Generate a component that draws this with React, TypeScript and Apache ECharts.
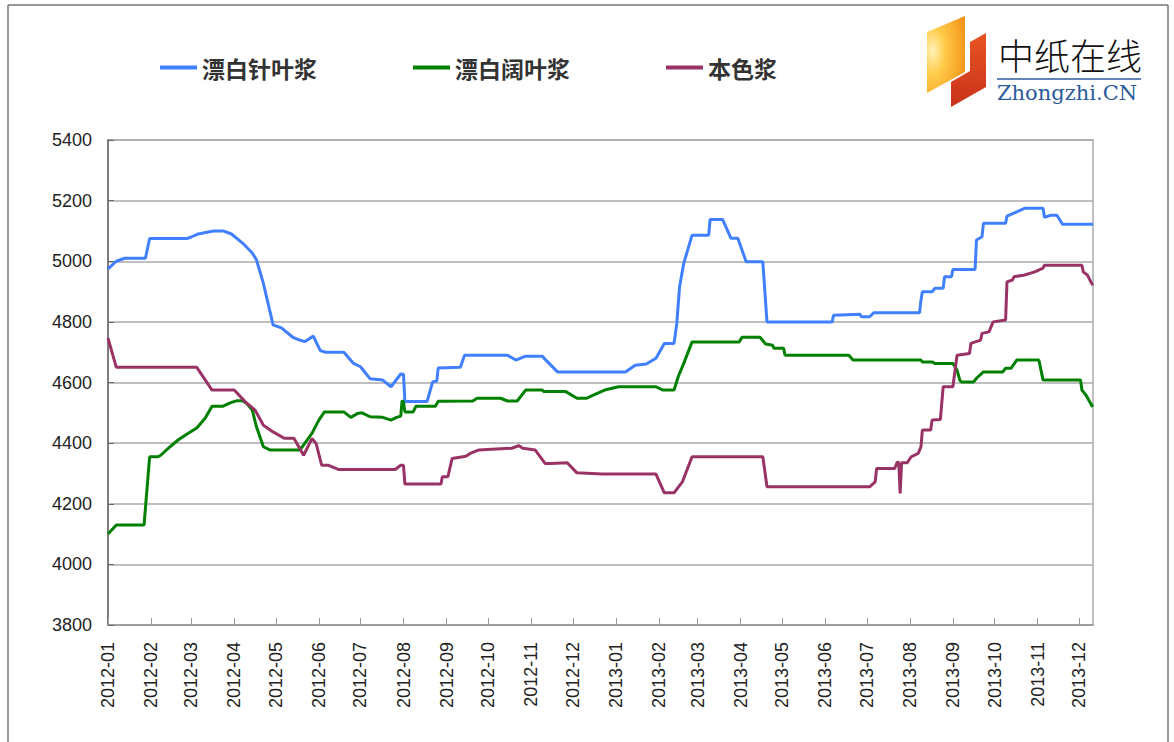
import React, { useEffect, useRef } from 'react';
import * as echarts from 'echarts';

// ---- data ----
const seriesNames = ['漂白针叶浆', '漂白阔叶浆', '本色浆'];
const seriesColors = ['#4080FF', '#008000', '#993366'];

const xMin = '2012-01-01';
const xMax = '2013-12-11';
const yMin = 3800;
const yMax = 5400;
const yStep = 200;

// 漂白针叶浆 (bleached softwood)
const softwood: [string, number][] = [
  ['2012-01-01', 4975], ['2012-01-07', 5000], ['2012-01-13', 5010], ['2012-01-28', 5010],
  ['2012-01-31', 5075], ['2012-02-27', 5075], ['2012-03-01', 5080], ['2012-03-06', 5090],
  ['2012-03-17', 5100], ['2012-03-24', 5100], ['2012-03-30', 5090], ['2012-04-07', 5060],
  ['2012-04-14', 5027], ['2012-04-17', 5005], ['2012-04-22', 4927], ['2012-04-29', 4790],
  ['2012-05-05', 4780], ['2012-05-13', 4750], ['2012-05-18', 4740], ['2012-05-22', 4735],
  ['2012-05-28', 4753], ['2012-06-02', 4705], ['2012-06-06', 4700], ['2012-06-19', 4700],
  ['2012-06-26', 4663], ['2012-07-01', 4652], ['2012-07-08', 4612], ['2012-07-17', 4608],
  ['2012-07-23', 4586], ['2012-07-30', 4628], ['2012-08-01', 4627], ['2012-08-02', 4537],
  ['2012-08-18', 4537], ['2012-08-22', 4602], ['2012-08-25', 4605], ['2012-08-26', 4648],
  ['2012-09-11', 4650], ['2012-09-14', 4690], ['2012-10-15', 4690], ['2012-10-21', 4674],
  ['2012-10-28', 4687], ['2012-11-09', 4687], ['2012-11-12', 4672], ['2012-11-20', 4635],
  ['2013-01-08', 4635], ['2013-01-15', 4657], ['2013-01-23', 4661], ['2013-01-30', 4680],
  ['2013-02-05', 4729], ['2013-02-12', 4729], ['2013-02-14', 4795], ['2013-02-16', 4916],
  ['2013-02-19', 4993], ['2013-02-25', 5086], ['2013-03-09', 5086], ['2013-03-10', 5138],
  ['2013-03-19', 5138], ['2013-03-25', 5076], ['2013-03-30', 5076], ['2013-04-05', 4998],
  ['2013-04-17', 4998], ['2013-04-20', 4800], ['2013-06-06', 4800], ['2013-06-07', 4822],
  ['2013-06-26', 4825], ['2013-06-27', 4817], ['2013-07-03', 4817], ['2013-07-06', 4830],
  ['2013-08-08', 4830], ['2013-08-09', 4872], ['2013-08-10', 4899], ['2013-08-17', 4899],
  ['2013-08-19', 4911], ['2013-08-25', 4911], ['2013-08-26', 4949], ['2013-08-31', 4949],
  ['2013-09-01', 4973], ['2013-09-17', 4973], ['2013-09-18', 5070], ['2013-09-22', 5081],
  ['2013-09-23', 5125], ['2013-10-09', 5125], ['2013-10-10', 5149], ['2013-10-17', 5163],
  ['2013-10-23', 5175], ['2013-11-05', 5175], ['2013-11-06', 5145], ['2013-11-11', 5152],
  ['2013-11-15', 5152], ['2013-11-19', 5122], ['2013-12-11', 5122],
];

// 漂白阔叶浆 (bleached hardwood)
const hardwood: [string, number][] = [
  ['2012-01-01', 4100], ['2012-01-07', 4130], ['2012-01-27', 4130], ['2012-01-31', 4355],
  ['2012-02-06', 4355], ['2012-02-08', 4360], ['2012-02-14', 4385], ['2012-02-21', 4412],
  ['2012-02-27', 4430], ['2012-03-05', 4450], ['2012-03-11', 4482], ['2012-03-16', 4522],
  ['2012-03-24', 4522], ['2012-03-29', 4533], ['2012-04-03', 4540], ['2012-04-07', 4540],
  ['2012-04-10', 4531], ['2012-04-14', 4509], ['2012-04-17', 4454], ['2012-04-22', 4388],
  ['2012-04-27', 4377], ['2012-05-18', 4377], ['2012-05-20', 4388], ['2012-05-27', 4432],
  ['2012-06-01', 4476], ['2012-06-05', 4503], ['2012-06-19', 4503], ['2012-06-24', 4485],
  ['2012-06-29', 4498], ['2012-07-02', 4500], ['2012-07-08', 4487], ['2012-07-17', 4485],
  ['2012-07-23', 4476], ['2012-07-27', 4485], ['2012-07-30', 4489], ['2012-07-31', 4540],
  ['2012-08-01', 4536], ['2012-08-02', 4503], ['2012-08-08', 4503], ['2012-08-10', 4522],
  ['2012-08-24', 4522], ['2012-08-26', 4538], ['2012-09-20', 4539], ['2012-09-23', 4548],
  ['2012-10-10', 4548], ['2012-10-15', 4539], ['2012-10-22', 4539], ['2012-10-28', 4575],
  ['2012-11-09', 4575], ['2012-11-10', 4570], ['2012-11-26', 4570], ['2012-12-04', 4548],
  ['2012-12-11', 4548], ['2012-12-17', 4561], ['2012-12-24', 4575], ['2013-01-03', 4586],
  ['2013-01-30', 4586], ['2013-02-04', 4575], ['2013-02-12', 4575], ['2013-02-15', 4619],
  ['2013-02-19', 4663], ['2013-02-25', 4734], ['2013-03-31', 4734], ['2013-04-02', 4749],
  ['2013-04-15', 4749], ['2013-04-19', 4727], ['2013-04-24', 4723], ['2013-04-25', 4713],
  ['2013-05-02', 4713], ['2013-05-03', 4690], ['2013-06-18', 4690], ['2013-06-21', 4674],
  ['2013-08-09', 4674], ['2013-08-10', 4668], ['2013-08-17', 4668], ['2013-08-19', 4663],
  ['2013-09-01', 4663], ['2013-09-04', 4641], ['2013-09-06', 4608], ['2013-09-07', 4602],
  ['2013-09-16', 4602], ['2013-09-18', 4614], ['2013-09-23', 4635], ['2013-10-07', 4635],
  ['2013-10-09', 4647], ['2013-10-13', 4647], ['2013-10-17', 4674], ['2013-11-02', 4674],
  ['2013-11-05', 4608], ['2013-12-02', 4608], ['2013-12-03', 4575], ['2013-12-06', 4558],
  ['2013-12-10', 4525], ['2013-12-11', 4520],
];

// 本色浆 (unbleached)
const unbleached: [string, number][] = [
  ['2012-01-01', 4746], ['2012-01-07', 4650], ['2012-03-05', 4650], ['2012-03-16', 4575],
  ['2012-04-01', 4575], ['2012-04-09', 4536], ['2012-04-16', 4509], ['2012-04-22', 4459],
  ['2012-04-29', 4437], ['2012-05-07', 4416], ['2012-05-14', 4416], ['2012-05-21', 4360],
  ['2012-05-27', 4415], ['2012-05-30', 4399], ['2012-06-03', 4327], ['2012-06-08', 4327],
  ['2012-06-15', 4313], ['2012-07-26', 4313], ['2012-07-30', 4327], ['2012-08-01', 4327],
  ['2012-08-02', 4265], ['2012-08-28', 4265], ['2012-08-29', 4289], ['2012-09-02', 4289],
  ['2012-09-05', 4349], ['2012-09-15', 4357], ['2012-09-18', 4366], ['2012-09-24', 4377],
  ['2012-10-18', 4383], ['2012-10-21', 4388], ['2012-10-23', 4392], ['2012-10-26', 4383],
  ['2012-11-04', 4377], ['2012-11-11', 4333], ['2012-11-15', 4333], ['2012-11-27', 4335],
  ['2012-12-04', 4302], ['2012-12-22', 4298], ['2013-01-30', 4298], ['2013-02-05', 4236],
  ['2013-02-12', 4236], ['2013-02-18', 4272], ['2013-02-25', 4355], ['2013-04-17', 4355],
  ['2013-04-20', 4256], ['2013-07-03', 4256], ['2013-07-07', 4272], ['2013-07-08', 4316],
  ['2013-07-21', 4316], ['2013-07-23', 4338], ['2013-07-24', 4335], ['2013-07-25', 4234],
  ['2013-07-26', 4335], ['2013-07-30', 4335], ['2013-08-02', 4355], ['2013-08-07', 4366],
  ['2013-08-09', 4388], ['2013-08-10', 4443], ['2013-08-16', 4443], ['2013-08-17', 4476],
  ['2013-08-23', 4478], ['2013-08-25', 4586], ['2013-09-01', 4586], ['2013-09-04', 4690],
  ['2013-09-13', 4696], ['2013-09-14', 4729], ['2013-09-21', 4740], ['2013-09-22', 4762],
  ['2013-09-27', 4767], ['2013-09-30', 4800], ['2013-10-09', 4806], ['2013-10-10', 4932],
  ['2013-10-14', 4938], ['2013-10-15', 4949], ['2013-10-22', 4954], ['2013-10-30', 4965],
  ['2013-11-05', 4977], ['2013-11-06', 4987], ['2013-12-03', 4987], ['2013-12-04', 4965],
  ['2013-12-07', 4954], ['2013-12-10', 4927], ['2013-12-11', 4921],
];

const seriesData = [softwood, hardwood, unbleached];

const DAY = 24 * 3600 * 1000;

function monthLabel(v: number): string {
  const d = new Date(v);
  const m = d.getMonth() + 1;
  return d.getFullYear() + '-' + (m < 10 ? '0' + m : '' + m);
}

export default function App() {
  const ref = useRef<HTMLDivElement>(null);

  useEffect(() => {
    if (!ref.current) return;
    const chart = echarts.init(ref.current, null, { renderer: 'svg' });

    const axisFont = 'Liberation Sans, Arial, sans-serif';

    chart.setOption({
      animation: false,
      backgroundColor: '#ffffff',
      legend: {
        left: 155,
        top: 51,
        itemGap: 96,
        itemWidth: 37,
        itemHeight: 4,
        icon: 'rect',
        data: seriesNames,
        textStyle: {
          fontSize: 23,
          fontWeight: 'bold',
          color: '#333',
          fontFamily: 'Noto Sans CJK SC',
        },
      },
      grid: {
        left: 108,
        right: 81,
        top: 140,
        bottom: 117,
        show: true,
        borderColor: '#aaaaaa',
        borderWidth: 1.5,
        backgroundColor: 'transparent',
      },
      xAxis: {
        type: 'time',
        min: xMin,
        max: xMax,
        splitNumber: 24,
        minInterval: 28 * DAY,
        maxInterval: 31 * DAY,
        axisLine: { show: true, lineStyle: { color: '#999999', width: 1.5 } },
        axisTick: { show: true, inside: true, length: 7, lineStyle: { color: '#999999', width: 1 } },
        axisLabel: {
          rotate: 90,
          formatter: (v: number) => monthLabel(v),
          fontSize: 18,
          color: '#222',
          fontFamily: axisFont,
          margin: 17,
          showMaxLabel: false,
          hideOverlap: false,
        },
        splitLine: { show: false },
      },
      yAxis: {
        type: 'value',
        min: yMin,
        max: yMax,
        interval: yStep,
        axisLine: { show: true, lineStyle: { color: '#666666', width: 1.5 } },
        axisTick: { show: true, inside: true, length: 6, lineStyle: { color: '#666666' } },
        axisLabel: {
          fontSize: 18,
          color: '#222',
          margin: 16,
          fontFamily: axisFont,
          formatter: (v: number) => String(v),
        },
        splitLine: { show: true, lineStyle: { color: '#aaaaaa', width: 1.5 } },
      },
      series: seriesNames.map((name, i) => ({
        name,
        type: 'line',
        data: seriesData[i],
        showSymbol: false,
        symbol: 'none',
        lineStyle: { color: seriesColors[i], width: 3 },
        itemStyle: { color: seriesColors[i] },
      })),
      graphic: [
        // outer frame
        { type: 'line', shape: { x1: 8, y1: 5, x2: 1168, y2: 5 }, style: { stroke: '#777', lineWidth: 1.5 }, silent: true },
        { type: 'line', shape: { x1: 8, y1: 5, x2: 8, y2: 760 }, style: { stroke: '#777', lineWidth: 1.5 }, silent: true },
        { type: 'line', shape: { x1: 1168, y1: 5, x2: 1168, y2: 760 }, style: { stroke: '#777', lineWidth: 1.5 }, silent: true },
        // logo: orange piece
        {
          type: 'polygon',
          shape: { points: [[927, 32], [965, 16], [965, 72], [927, 93]] },
          style: {
            fill: new echarts.graphic.RadialGradient(0.15, 0.45, 0.9, [
              { offset: 0, color: '#FFF3B8' },
              { offset: 0.35, color: '#FFCB4A' },
              { offset: 1, color: '#F39419' },
            ]),
          },
          silent: true,
        },
        // logo: red piece
        {
          type: 'polygon',
          shape: { points: [[970, 42], [986, 33], [986, 87], [951, 107], [951, 82], [970, 71]] },
          style: {
            fill: new echarts.graphic.LinearGradient(0, 0, 0, 1, [
              { offset: 0, color: '#E85522' },
              { offset: 1, color: '#C8321A' },
            ]),
          },
          silent: true,
        },
        {
          type: 'text',
          x: 998,
          y: 54,
          style: {
            text: '中纸在线',
            fontSize: 36,
            fontWeight: 300,
            fontFamily: 'Noto Sans CJK SC',
            fill: '#111111',
            verticalAlign: 'middle',
            align: 'left',
          },
          silent: true,
        },
        { type: 'line', shape: { x1: 997, y1: 79, x2: 1141, y2: 79 }, style: { stroke: '#2E5C9E', lineWidth: 1.5 }, silent: true },
        {
          type: 'text',
          x: 997,
          y: 93,
          style: {
            text: 'Zhongzhi.CN',
            fontSize: 21,
            fontFamily: 'DejaVu Serif',
            fill: '#2C5A9C',
            verticalAlign: 'middle',
            align: 'left',
          },
          silent: true,
        },
      ],
    });

    return () => {
      chart.dispose();
    };
  }, []);

  return (
    <div
      ref={ref}
      style={{ position: 'fixed', left: 0, top: 0, width: 1174, height: 742, background: '#fff' }}
    />
  );
}
